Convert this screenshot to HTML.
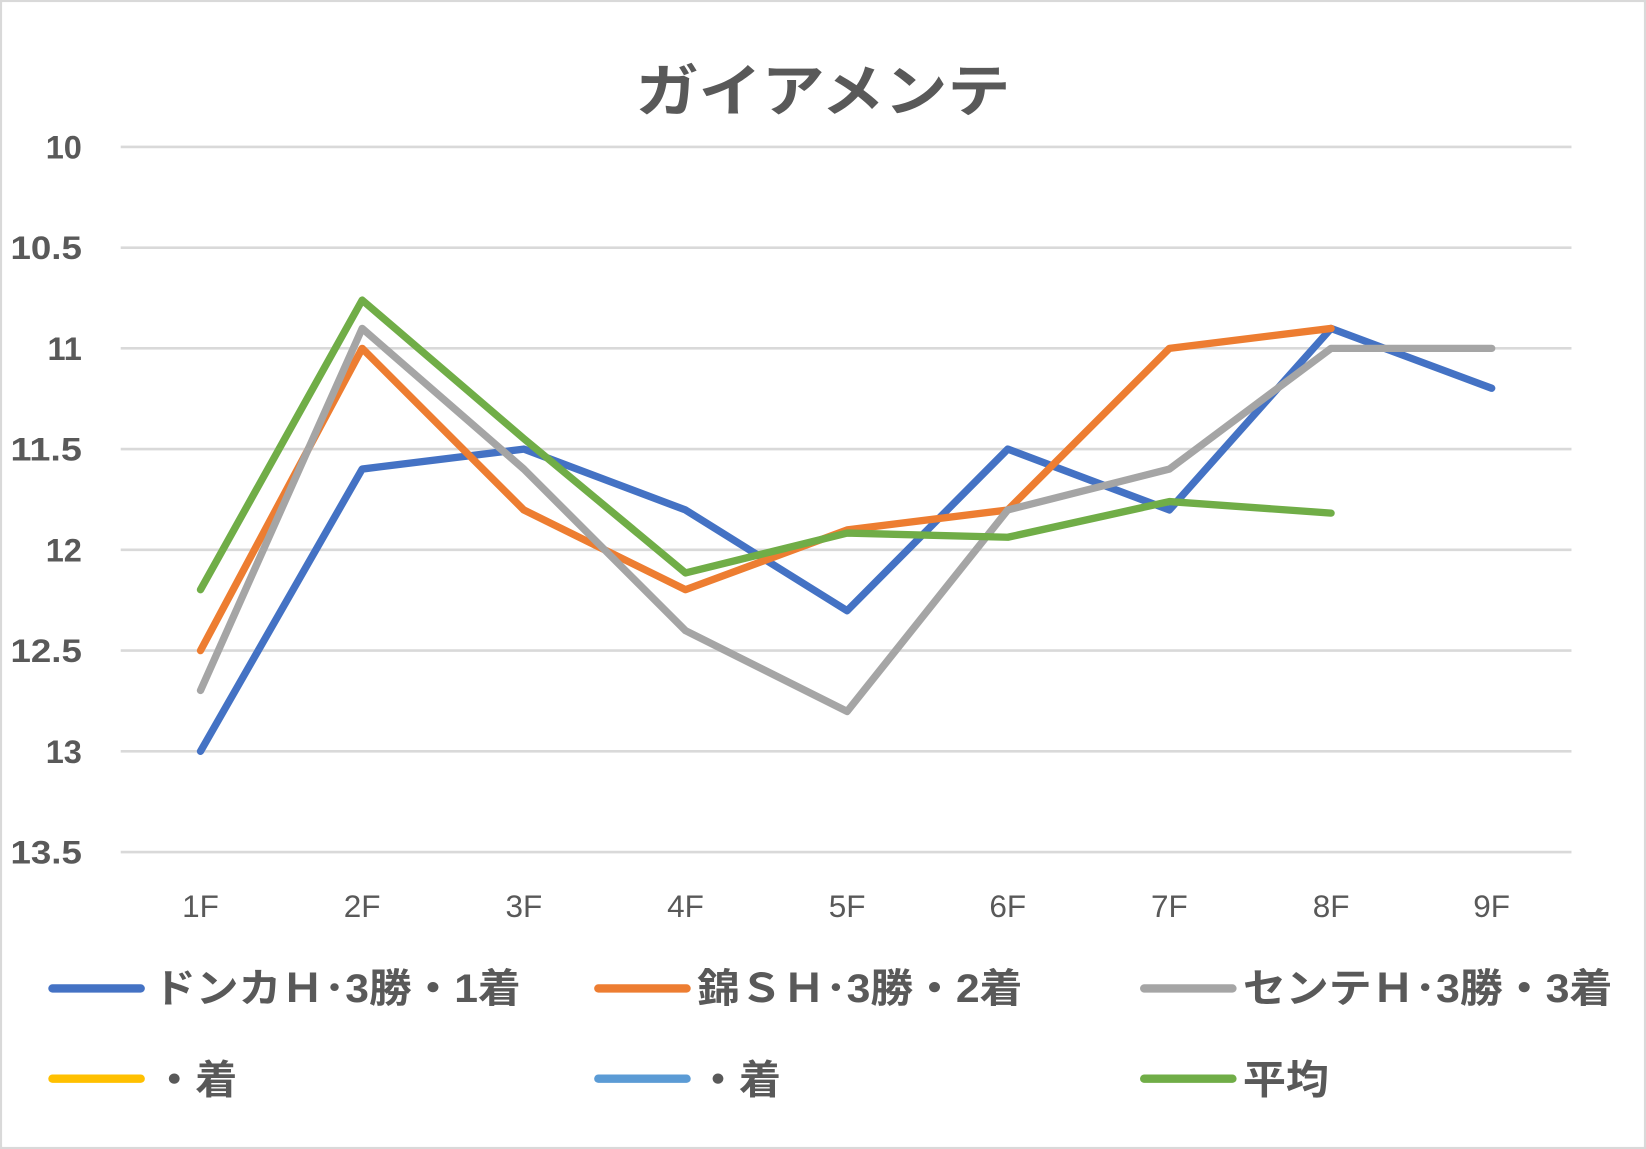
<!DOCTYPE html>
<html><head><meta charset="utf-8"><style>
html,body{margin:0;padding:0;background:#fff;}
svg{display:block;}
</style></head><body>
<svg width="1646" height="1149" viewBox="0 0 1568 1095" preserveAspectRatio="none" xmlns="http://www.w3.org/2000/svg">
<rect x="1" y="1" width="1566" height="1093" fill="#fff" stroke="#d9d9d9" stroke-width="2"/>
<text x="784" y="106" text-anchor="middle" font-family="Liberation Sans, Noto Sans CJK JP, sans-serif" font-size="54" font-weight="bold" fill="#595959" textLength="357" lengthAdjust="spacingAndGlyphs">ガイアメンテ</text>
<g stroke="#d9d9d9" stroke-width="2.5">
<line x1="115" x2="1497" y1="140" y2="140"/><line x1="115" x2="1497" y1="236" y2="236"/>
<line x1="115" x2="1497" y1="332" y2="332"/><line x1="115" x2="1497" y1="428" y2="428"/>
<line x1="115" x2="1497" y1="524" y2="524"/><line x1="115" x2="1497" y1="620" y2="620"/>
<line x1="115" x2="1497" y1="716" y2="716"/><line x1="115" x2="1497" y1="812" y2="812"/>
</g>
<g font-family="Liberation Sans, sans-serif" font-size="31" font-weight="bold" fill="#595959" text-anchor="end">
<text x="78" y="151">10</text><text x="78" y="247" textLength="68" lengthAdjust="spacingAndGlyphs">10.5</text><text x="78" y="343">11</text><text x="78" y="439" textLength="68" lengthAdjust="spacingAndGlyphs">11.5</text>
<text x="78" y="535">12</text><text x="78" y="631" textLength="68" lengthAdjust="spacingAndGlyphs">12.5</text><text x="78" y="727">13</text><text x="78" y="823" textLength="68" lengthAdjust="spacingAndGlyphs">13.5</text>
</g>
<g font-family="Liberation Sans, sans-serif" font-size="30" fill="#595959" text-anchor="middle">
<text x="191" y="874">1F</text><text x="345" y="874">2F</text><text x="499" y="874">3F</text><text x="653" y="874">4F</text>
<text x="807" y="874">5F</text><text x="960" y="874">6F</text><text x="1114" y="874">7F</text><text x="1268" y="874">8F</text><text x="1421" y="874">9F</text>
</g>
<g fill="none" stroke-width="7" stroke-linejoin="round" stroke-linecap="round">
<polyline stroke="#4472c4" points="191,716 345,447 499,428 653,486 807,582 960,428 1114,486 1268,313 1421,370"/>
<polyline stroke="#ed7d31" points="191,620 345,332 499,486 653,562 807,505 960,486 1114,332 1268,313"/>
<polyline stroke="#a5a5a5" points="191,658 345,313 499,447 653,601 807,678 960,486 1114,447 1268,332 1421,332"/>
<polyline stroke="#70ad47" points="191,562 345,286 499,418 653,546 807,508 960,512 1114,478 1268,489"/>
</g>
<g stroke-width="8" stroke-linecap="round">
<line x1="50" x2="134" y1="942" y2="942" stroke="#4472c4"/>
<line x1="570" x2="654" y1="942" y2="942" stroke="#ed7d31"/>
<line x1="1090" x2="1174" y1="942" y2="942" stroke="#a5a5a5"/>
<line x1="50" x2="134" y1="1028" y2="1028" stroke="#ffc000"/>
<line x1="570" x2="654" y1="1028" y2="1028" stroke="#5b9bd5"/>
<line x1="1090" x2="1174" y1="1028" y2="1028" stroke="#70ad47"/>
</g>
<g font-family="Liberation Sans, Noto Sans CJK JP, sans-serif" font-size="38" font-weight="bold" fill="#595959" lengthAdjust="spacingAndGlyphs">
<text x="146" y="955" textLength="350" lengthAdjust="spacingAndGlyphs">ドンカＨ･3勝・1着</text>
<text x="664" y="955" textLength="310" lengthAdjust="spacingAndGlyphs">錦ＳＨ･3勝・2着</text>
<text x="1184" y="955" textLength="352" lengthAdjust="spacingAndGlyphs">センテＨ･3勝・3着</text>
<text x="146" y="1042" textLength="80" lengthAdjust="spacingAndGlyphs">・着</text>
<text x="664" y="1042" textLength="80" lengthAdjust="spacingAndGlyphs">・着</text>
<text x="1184" y="1042" textLength="82" lengthAdjust="spacingAndGlyphs">平均</text>
</g>
</svg>
</body></html>
